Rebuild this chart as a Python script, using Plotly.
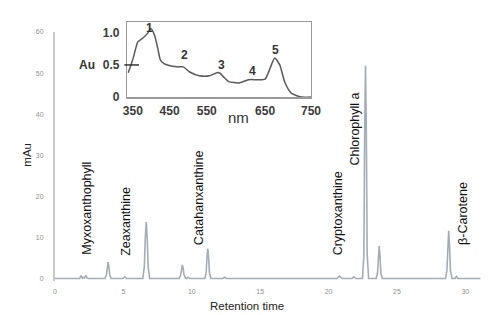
import plotly.graph_objects as go

# ---------------- data ----------------
# chromatogram (retention time in min, intensity in mAu)
rt = [0.0, 1.8, 1.9, 2.0, 2.05, 2.15, 2.25, 2.35, 2.45,
      3.65, 3.76, 3.82, 3.88, 3.94, 4.0, 4.1,
      4.95, 5.1, 5.25,
      6.42, 6.53, 6.6, 6.67, 6.74, 6.81, 6.92,
      9.08, 9.19, 9.25, 9.31, 9.37, 9.43, 9.54, 9.62, 9.72, 9.85,
      10.95, 11.05, 11.11, 11.17, 11.23, 11.29, 11.4,
      12.25, 12.4, 12.55,
      20.6, 20.8, 21.0, 21.7, 21.85, 22.0,
      22.48, 22.58, 22.64, 22.7, 22.76, 22.82, 22.93,
      23.48, 23.58, 23.64, 23.7, 23.76, 23.82, 23.93,
      28.55, 28.65, 28.72, 28.78, 28.84, 28.91, 29.02,
      29.25, 29.35, 29.45, 31.1]
mau = [0.1, 0.1, 0.8, 0.2, 0.4, 0.2, 0.9, 0.2, 0.1,
       0.1, 1.0, 3.0, 4.1, 3.0, 1.0, 0.1,
       0.1, 0.5, 0.1,
       0.1, 3.0, 10.0, 13.8, 10.0, 3.0, 0.1,
       0.1, 1.0, 2.6, 3.4, 2.6, 1.0, 0.2, 0.1, 0.4, 0.1,
       0.1, 1.5, 5.2, 7.3, 5.2, 1.5, 0.1,
       0.1, 0.4, 0.1,
       0.1, 0.7, 0.1, 0.1, 0.5, 0.1,
       0.1, 6.0, 36.0, 51.8, 36.0, 6.0, 0.1,
       0.1, 1.5, 5.6, 8.0, 5.6, 1.5, 0.1,
       0.1, 2.0, 8.2, 11.7, 8.2, 2.0, 0.1,
       0.1, 0.6, 0.1, 0.1]

# absorption spectrum (inset)
nm = [352, 358, 363, 368, 373, 384, 395, 401, 409, 416, 422, 430, 437, 458,
      472, 486, 507, 529, 545, 552, 560, 571, 593, 614, 635, 650, 661, 671,
      682, 693, 707, 729, 750]
au = [0.38, 0.50, 0.61, 0.75, 0.86, 0.92, 1.00, 1.07, 0.97, 0.77, 0.58, 0.52,
      0.50, 0.47, 0.47, 0.39, 0.33, 0.33, 0.38, 0.37, 0.31, 0.24, 0.22, 0.27,
      0.27, 0.28, 0.45, 0.61, 0.50, 0.23, 0.06, 0.00, 0.00]

pigments = ["Myxoxanthophyll", "Zeaxanthine", "Catahanxanthine",
            "Cryptoxanthine", "Chlorophyll a", "β-Carotene"]
band_labels = ["1", "2", "3", "4", "5"]

main_xticks = [0, 5, 10, 15, 20, 25, 30]
main_yticks = [0, 10, 20, 30, 40, 50, 60]
inset_xtickvals = [362, 442, 523, 650, 750]
inset_xticktext = ["350", "450", "550", "650", "750"]
inset_yticks = [0, 0.5, 1.0]
inset_yticktext = ["0", "0.5", "1.0"]

# ---------------- layout helpers ----------------
W, H = 500, 315
L, R, T, B = 55, 9, 20, 34
PW, PH = W - L - R, H - T - B


def px(x):
    return (x - L) / PW


def py(y):
    return (H - B - y) / PH


fig = go.Figure()
fig.add_trace(go.Scatter(x=rt, y=mau, mode="lines",
                         line=dict(color="#a3adb5", width=1.6),
                         xaxis="x", yaxis="y", showlegend=False,
                         hoverinfo="skip"))
fig.add_trace(go.Scatter(x=nm, y=au, mode="lines",
                         line=dict(color="#5a5a5a", width=1.5, shape="spline",
                                   smoothing=0.6),
                         xaxis="x2", yaxis="y2", showlegend=False,
                         hoverinfo="skip"))

tick_font = dict(family="Arial", size=7, color="#8f8f8f")
inset_font = dict(family="Arial", size=12, color="#3a3a3a", weight="bold")

fig.update_layout(
    width=W, height=H,
    margin=dict(l=L, r=R, t=T, b=B),
    paper_bgcolor="white", plot_bgcolor="rgba(0,0,0,0)",
    xaxis=dict(domain=[0, 1], range=[0, PW / 14.0], tickvals=main_xticks,
               showgrid=False, zeroline=False, showline=False, ticks="",
               tickfont=tick_font, ticklabelstandoff=5),
    yaxis=dict(domain=[0, py(32)], range=[-0.5, 60], tickvals=main_yticks,
               showgrid=False, zeroline=False, showline=True,
               linecolor="#c8c8c8", linewidth=2, ticks="",
               tickfont=tick_font, ticklabelstandoff=8),
    xaxis2=dict(domain=[px(129), px(317)], range=[350, 750],
                tickvals=inset_xtickvals, ticktext=inset_xticktext,
                anchor="y2",
                showgrid=False, zeroline=False, showline=True, mirror=True,
                linecolor="#9a9a9a", linewidth=1.5, ticks="",
                tickfont=inset_font, ticklabelstandoff=2),
    yaxis2=dict(domain=[py(97), py(22)], range=[0, 1.17],
                tickvals=inset_yticks, ticktext=inset_yticktext, anchor="x2",
                showgrid=False, zeroline=False, showline=True, mirror=True,
                linecolor="#9a9a9a", linewidth=1.5, ticks="",
                tickfont=inset_font, ticklabelstandoff=4),
)

ann = []
# pigment labels (rotated)
lab_pos = [(87, 257), (127, 258), (202, 247), (345, 257), (362, 167), (472, 247)]
for txt, (x, y) in zip(pigments, lab_pos):
    ann.append(dict(text=txt, x=px(x), y=py(y), xref="paper", yref="paper",
                    textangle=-90, xanchor="center", yanchor="bottom",
                    showarrow=False,
                    font=dict(family="Arial", size=12.5, color="#111")))
# inset band numbers
band_pos = [(152, 28), (188, 55), (225, 65), (257, 71), (281, 50)]
for txt, (x, y) in zip(band_labels, band_pos):
    ann.append(dict(text=txt, x=px(x), y=py(y), xref="paper", yref="paper",
                    xanchor="center", yanchor="middle", showarrow=False,
                    font=dict(family="Arial", size=12, color="#333",
                              weight="bold")))
# inset axis titles
ann.append(dict(text="Au", x=px(88), y=py(65), xref="paper", yref="paper",
                showarrow=False, xanchor="center", yanchor="middle",
                font=dict(family="Arial", size=12, color="#333",
                          weight="bold")))
ann.append(dict(text="nm", x=px(243), y=py(118), xref="paper", yref="paper",
                showarrow=False, xanchor="center", yanchor="middle",
                font=dict(family="Arial", size=15, color="#333")))
# main axis titles
ann.append(dict(text="mAu", x=px(26), y=py(155), xref="paper", yref="paper",
                textangle=-90, showarrow=False, xanchor="center",
                yanchor="middle",
                font=dict(family="Arial", size=11.5, color="#222")))
ann.append(dict(text="Retention time", x=px(252), y=py(306), xref="paper",
                yref="paper", showarrow=False, xanchor="center",
                yanchor="middle",
                font=dict(family="Arial", size=11.5, color="#222")))
fig.update_layout(annotations=ann)

# crossing tick mark at 0.5 on the inset axis
fig.add_shape(type="line", xref="paper", yref="y2", x0=px(126), x1=px(141),
              y0=0.5, y1=0.5, line=dict(color="#333", width=1.5))

fig.write_html("out.html",
               config={"displayModeBar": False, "staticPlot": True},
               post_script="document.body.style.margin='0px';"
                           "document.body.style.overflow='hidden';")
